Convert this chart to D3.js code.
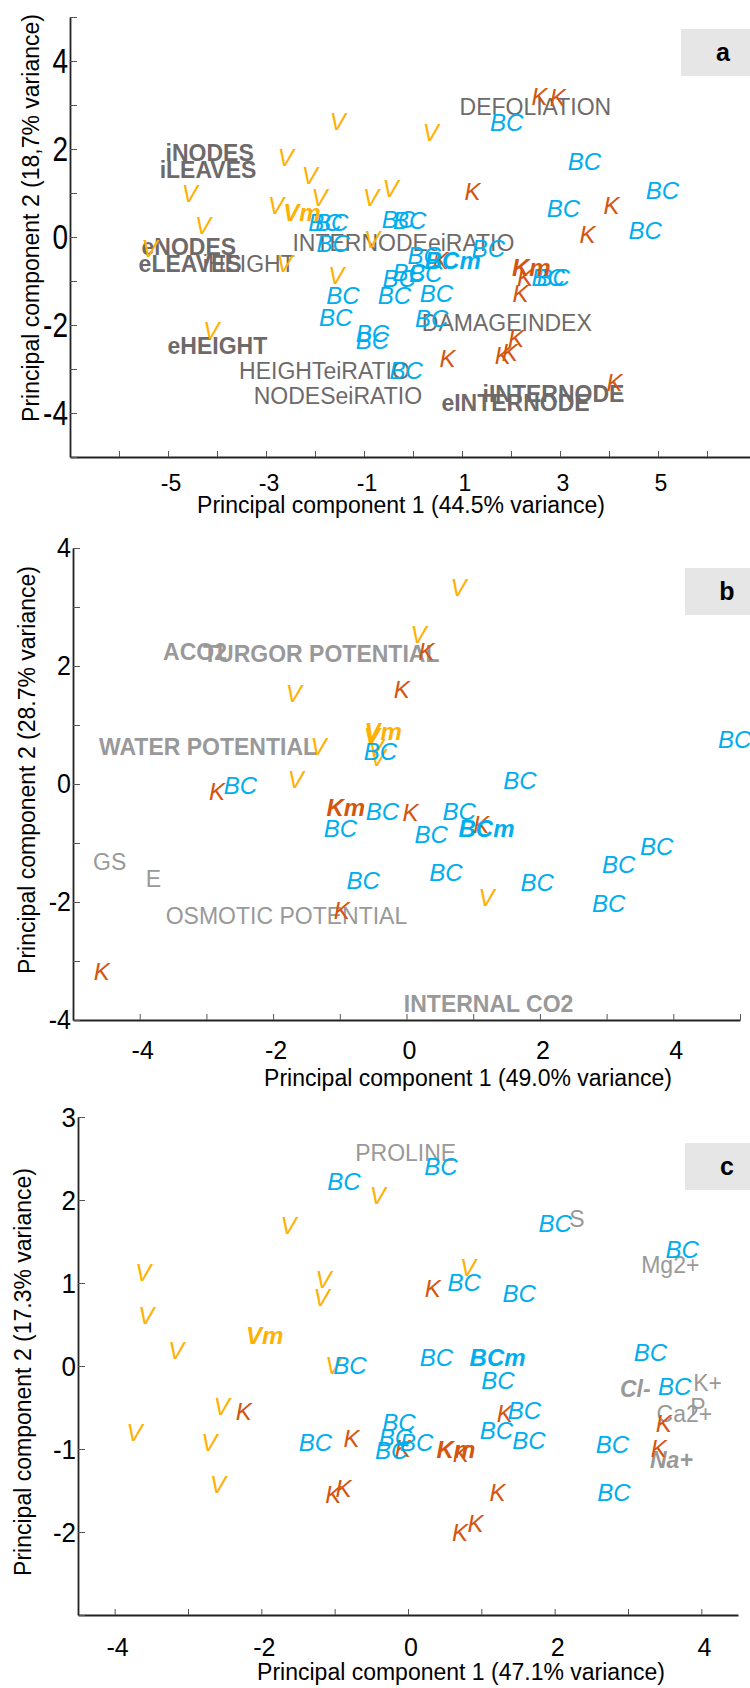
<!DOCTYPE html>
<html>
<head>
<meta charset="utf-8">
<script src="https://cdn.jsdelivr.net/npm/d3@7"></script>
<style>
  body { margin: 0; background: #fff; }
  svg { display: block; font-family: "Liberation Sans", Arial, sans-serif; }
</style>
</head>
<body>
<svg id="fig" width="750" height="1688"></svg>
<script>
// ---------- Panel a: growth / defoliation traits ----------
const aV = [[-1.70,2.62],[-2.76,1.80],[-2.27,1.41],[-4.72,1.00],[-2.07,0.89],[-1.02,0.91],[-2.96,0.73],
            [-4.45,0.27],[-5.54,-0.25],[0.20,2.37],[-0.62,1.11],[-1.73,-0.87],[-2.79,-0.60],[-4.28,-2.12],[-1.00,-0.05]];
const aK = [[2.42,3.19],[2.79,3.17],[1.05,1.03],[3.89,0.73],[3.40,0.05],[0.40,-0.52],[2.12,-0.91],[2.03,-1.28],
            [0.54,-2.76],[1.94,-2.30],[1.81,-2.62],[1.67,-2.69],[3.95,-3.30]];
const aBC = [[1.57,2.60],[3.16,1.71],[4.75,1.07],[2.73,0.66],[4.40,0.16],[-0.64,0.41],[-0.41,0.37],[-2.14,0.34],
             [-2.00,0.34],[-1.97,-0.14],[-0.11,-0.41],[1.20,-0.25],[2.42,-0.91],[2.52,-0.91],[-0.42,-0.80],
             [-0.08,-0.82],[-0.62,-0.95],[-0.72,-1.32],[0.14,-1.28],[0.04,-1.85],[-1.77,-1.32],[-1.92,-1.82],
             [-1.17,-2.19],[-1.17,-2.35],[-0.48,-3.03]];
const aMeans = [["Vm",-2.65,0.55],["Km",2.02,-0.68],["BCm",0.24,-0.52]];
const aVarsBold = [["iNODES",-5.05,1.91],["iLEAVES",-5.17,1.53],["eNODES",-5.54,-0.23],["eLEAVES",-5.60,-0.60],
                   ["eHEIGHT",-5.01,-2.48],["eINTERNODE",0.58,-3.76],["iINTERNODE",1.42,-3.56]];
const aVarsPlain = [["DEFOLIATION",0.95,2.96],["INTERNODEeiRATIO",-2.46,-0.14],["iHEIGHT",-4.29,-0.60],
                    ["DAMAGEINDEX",0.18,-1.94],["HEIGHTeiRATIO",-3.55,-3.03],["NODESeiRATIO",-3.25,-3.60]];
const aXTickLabels = [-5,-3,-1,1,3,5];
const aYTickLabels = [-4,-2,0,2,4];

// ---------- Panel b: water relations / gas exchange ----------
const bV = [[0.66,3.34],[0.06,2.54],[-1.81,1.53],[-1.44,0.63],[-1.78,0.08],[1.08,-1.92],[-0.64,0.80],[-0.58,0.62],[-0.55,0.45]];
const bK = [[0.18,2.24],[-0.19,1.61],[-2.96,-0.12],[-0.06,-0.48],[1.00,-0.68],[-1.09,-2.15],[-4.69,-3.17]];
const bBC = [[4.67,0.76],[-0.64,0.56],[-2.74,-0.02],[-1.24,-0.76],[-0.90,-1.64],[1.45,0.07],[-0.61,-0.46],
             [0.54,-0.46],[0.12,-0.85],[2.93,-1.36],[3.50,-1.05],[0.34,-1.49],[1.71,-1.66],[2.78,-2.03]];
const bMeans = [["Vm",-0.63,0.90],["Km",-1.20,-0.39],["BCm",0.78,-0.76]];
const bVarsBold = [["ACO2",-3.65,2.24],["TURGOR POTENTIAL",-3.05,2.20],["WATER POTENTIAL",-4.61,0.64],["INTERNAL CO2",-0.04,-3.73]];
const bVarsPlain = [["GS",-4.70,-1.31],["E",-3.91,-1.61],["OSMOTIC POTENTIAL",-3.61,-2.24]];
const bXTickLabels = [-4,-2,0,2,4];
const bYTickLabels = [-4,-2,0,2,4];

// ---------- Panel c: ions and proline ----------
const cV = [[-0.52,2.06],[-1.74,1.70],[-3.72,1.13],[-1.26,1.04],[-1.29,0.83],[-3.68,0.61],[-3.27,0.19],[-1.13,0.01],
            [0.71,1.19],[-2.65,-0.49],[-3.84,-0.80],[-2.82,-0.92],[-2.70,-1.43]];
const cK = [[0.23,0.94],[1.21,-0.57],[3.38,-0.69],[3.31,-0.99],[1.11,-1.52],[0.60,-2.01],[0.81,-1.89],[0.61,-1.05],
            [-2.35,-0.55],[-0.88,-0.87],[-1.13,-1.55],[-0.99,-1.47],[-0.18,-0.99]];
const cBC = [[-1.10,2.22],[0.22,2.40],[1.78,1.72],[3.51,1.40],[0.54,1.01],[1.29,0.88],[0.16,0.10],[3.08,0.16],
             [-1.02,0.01],[1.00,-0.17],[3.41,-0.25],[1.36,-0.53],[0.98,-0.77],[1.42,-0.89],[2.56,-0.95],
             [2.58,-1.52],[-1.49,-0.92],[-0.35,-0.68],[-0.40,-0.86],[-0.45,-1.02],[-0.11,-0.92]];
const cMeans = [["Vm",-2.21,0.37],["Km",0.39,-1.01],["BCm",0.84,0.11]];
const cVarsPlain = [["PROLINE",-0.72,2.57],["S",2.20,1.78],["Mg2+",3.18,1.22],["K+",3.89,-0.20],["Ca2+",3.39,-0.57],["P",3.85,-0.49]];
const cVarsBoldItalic = [["Cl-",2.89,-0.27],["Na+",3.30,-1.13]];
const cXTickLabels = [-4,-2,0,2,4];
const cYTickLabels = [-2,-1,0,1,2,3];

// ---------- drawing ----------
const colV = "#FFB000", colK = "#D4550F", colBC = "#00AEEF";
const svg = d3.select("#fig");

const panels = [
  { tag: "a", xDom: [-7, 7], xRng: [70, 756], yDom: [-5, 5], yRng: [457, 17],
    xTicks: d3.range(-6, 7), yTicks: d3.range(-5, 6), xLab: aXTickLabels, yLab: aYTickLabels,
    xFs: 23, yFs: 28, yStretch: 1.22, xLabY: 26,
    V: aV, K: aK, BC: aBC, means: aMeans, varCol: "#6e6a6a",
    vars: [[aVarsBold, "bold", "normal"], [aVarsPlain, "normal", "normal"]],
    xTitle: "Principal component 1 (44.5% variance)", xTitlePos: [401, 505],
    yTitle: "Principal component 2 (18,7% variance)", yTitlePos: [31, 218],
    box: [681, 29, 47] },
  { tag: "b", xDom: [-5, 5], xRng: [73, 740], yDom: [-4, 4], yRng: [1020, 548],
    xTicks: d3.range(-4, 6), yTicks: d3.range(-4, 5), xLab: bXTickLabels, yLab: bYTickLabels,
    xFs: 25, yFs: 25, yStretch: 1.08, xLabY: 30,
    V: bV, K: bK, BC: bBC, means: bMeans, varCol: "#999999",
    vars: [[bVarsBold, "bold", "normal"], [bVarsPlain, "normal", "normal"]],
    xTitle: "Principal component 1 (49.0% variance)", xTitlePos: [468, 1078],
    yTitle: "Principal component 2 (28.7% variance)", yTitlePos: [27, 770],
    box: [685, 568, 47] },
  { tag: "c", xDom: [-4.5, 4.5], xRng: [78, 738], yDom: [-3, 3], yRng: [1615, 1117],
    xTicks: d3.range(-4, 5), yTicks: d3.range(-3, 4), xLab: cXTickLabels, yLab: cYTickLabels,
    xFs: 25, yFs: 26, yStretch: 1.08, xLabY: 32,
    V: cV, K: cK, BC: cBC, means: cMeans, varCol: "#999999",
    vars: [[cVarsPlain, "normal", "normal"], [cVarsBoldItalic, "bold", "italic"]],
    xTitle: "Principal component 1 (47.1% variance)", xTitlePos: [461, 1672],
    yTitle: "Principal component 2 (17.3% variance)", yTitlePos: [23, 1372],
    box: [685, 1143, 47] }
];

panels.forEach(p => {
  const x = d3.scaleLinear().domain(p.xDom).range(p.xRng);
  const y = d3.scaleLinear().domain(p.yDom).range(p.yRng);
  const g = svg.append("g").attr("class", "panel-" + p.tag);

  // panel letter tag
  g.append("rect").attr("x", p.box[0]).attr("y", p.box[1]).attr("width", 750 - p.box[0]).attr("height", p.box[2])
    .attr("fill", "#e6e6e6");
  g.append("text").attr("x", p.box[0] + 42).attr("y", p.box[1] + p.box[2] / 2).attr("dy", "0.35em")
    .attr("text-anchor", "middle").attr("font-weight", "bold").attr("font-size", 25).attr("fill", "#000")
    .text(p.tag);

  // axes: ticks point inward, labels only on selected values
  const xAxis = d3.axisBottom(x).tickValues(p.xTicks).tickSizeInner(-6).tickSizeOuter(0).tickFormat("");
  const gx = g.append("g").attr("transform", `translate(0,${p.yRng[0]})`).call(xAxis);
  const yAxis = d3.axisLeft(y).tickValues(p.yTicks).tickSizeInner(-7).tickSizeOuter(0).tickFormat("");
  const gy = g.append("g").attr("transform", `translate(${p.xRng[0]},0)`).call(yAxis);
  [gx, gy].forEach(a => {
    a.select(".domain").attr("stroke", "#222").attr("stroke-width", 1.8);
    a.selectAll(".tick line").attr("stroke", "#555").attr("stroke-width", 1);
  });

  g.selectAll(".xlab").data(p.xLab).join("text")
    .attr("x", d => x(d) + 3).attr("y", p.yRng[0] + p.xLabY).attr("dy", "0.35em")
    .attr("text-anchor", "middle").attr("font-size", p.xFs).attr("fill", "#000")
    .text(d => d < 0 ? "-" + Math.abs(d) : d);

  g.selectAll(".ylab").data(p.yLab).join("text")
    .attr("transform", d => `translate(${p.xRng[0] - 2},${y(d)}) scale(1,${p.yStretch})`)
    .attr("dy", "0.35em").attr("text-anchor", "end").attr("font-size", p.yFs).attr("fill", "#000")
    .text(d => d < 0 ? "-" + Math.abs(d) : d);

  g.append("text").attr("x", p.xTitlePos[0]).attr("y", p.xTitlePos[1]).attr("dy", "0.35em")
    .attr("text-anchor", "middle").attr("font-size", 23).attr("fill", "#000").text(p.xTitle);
  g.append("text").attr("transform", `translate(${p.yTitlePos[0]},${p.yTitlePos[1]}) rotate(-90)`)
    .attr("dy", "0.35em").attr("text-anchor", "middle").attr("font-size", 23).attr("fill", "#000").text(p.yTitle);

  // variable (loading) labels
  p.vars.forEach(([rows, weight, style]) => {
    g.append("g").selectAll("text").data(rows).join("text")
      .attr("x", d => x(d[1])).attr("y", d => y(d[2])).attr("dy", "0.36em")
      .attr("font-size", 23).attr("font-weight", weight).attr("font-style", style)
      .attr("fill", p.varCol).text(d => d[0]);
  });

  // sample scores
  const samples = [[p.V, "V", colV], [p.K, "K", colK], [p.BC, "BC", colBC]];
  samples.forEach(([rows, lab, col]) => {
    g.append("g").selectAll("text").data(rows).join("text")
      .attr("x", d => x(d[0])).attr("y", d => y(d[1])).attr("dy", "0.36em")
      .attr("font-size", 24).attr("font-style", "italic").attr("fill", col).text(lab);
  });

  // group means
  const meanCol = { Vm: colV, Km: colK, BCm: colBC };
  g.append("g").selectAll("text").data(p.means).join("text")
    .attr("x", d => x(d[1])).attr("y", d => y(d[2])).attr("dy", "0.36em")
    .attr("font-size", 24).attr("font-style", "italic").attr("font-weight", "bold")
    .attr("fill", d => meanCol[d[0]]).text(d => d[0]);
});
</script>
</body>
</html>
